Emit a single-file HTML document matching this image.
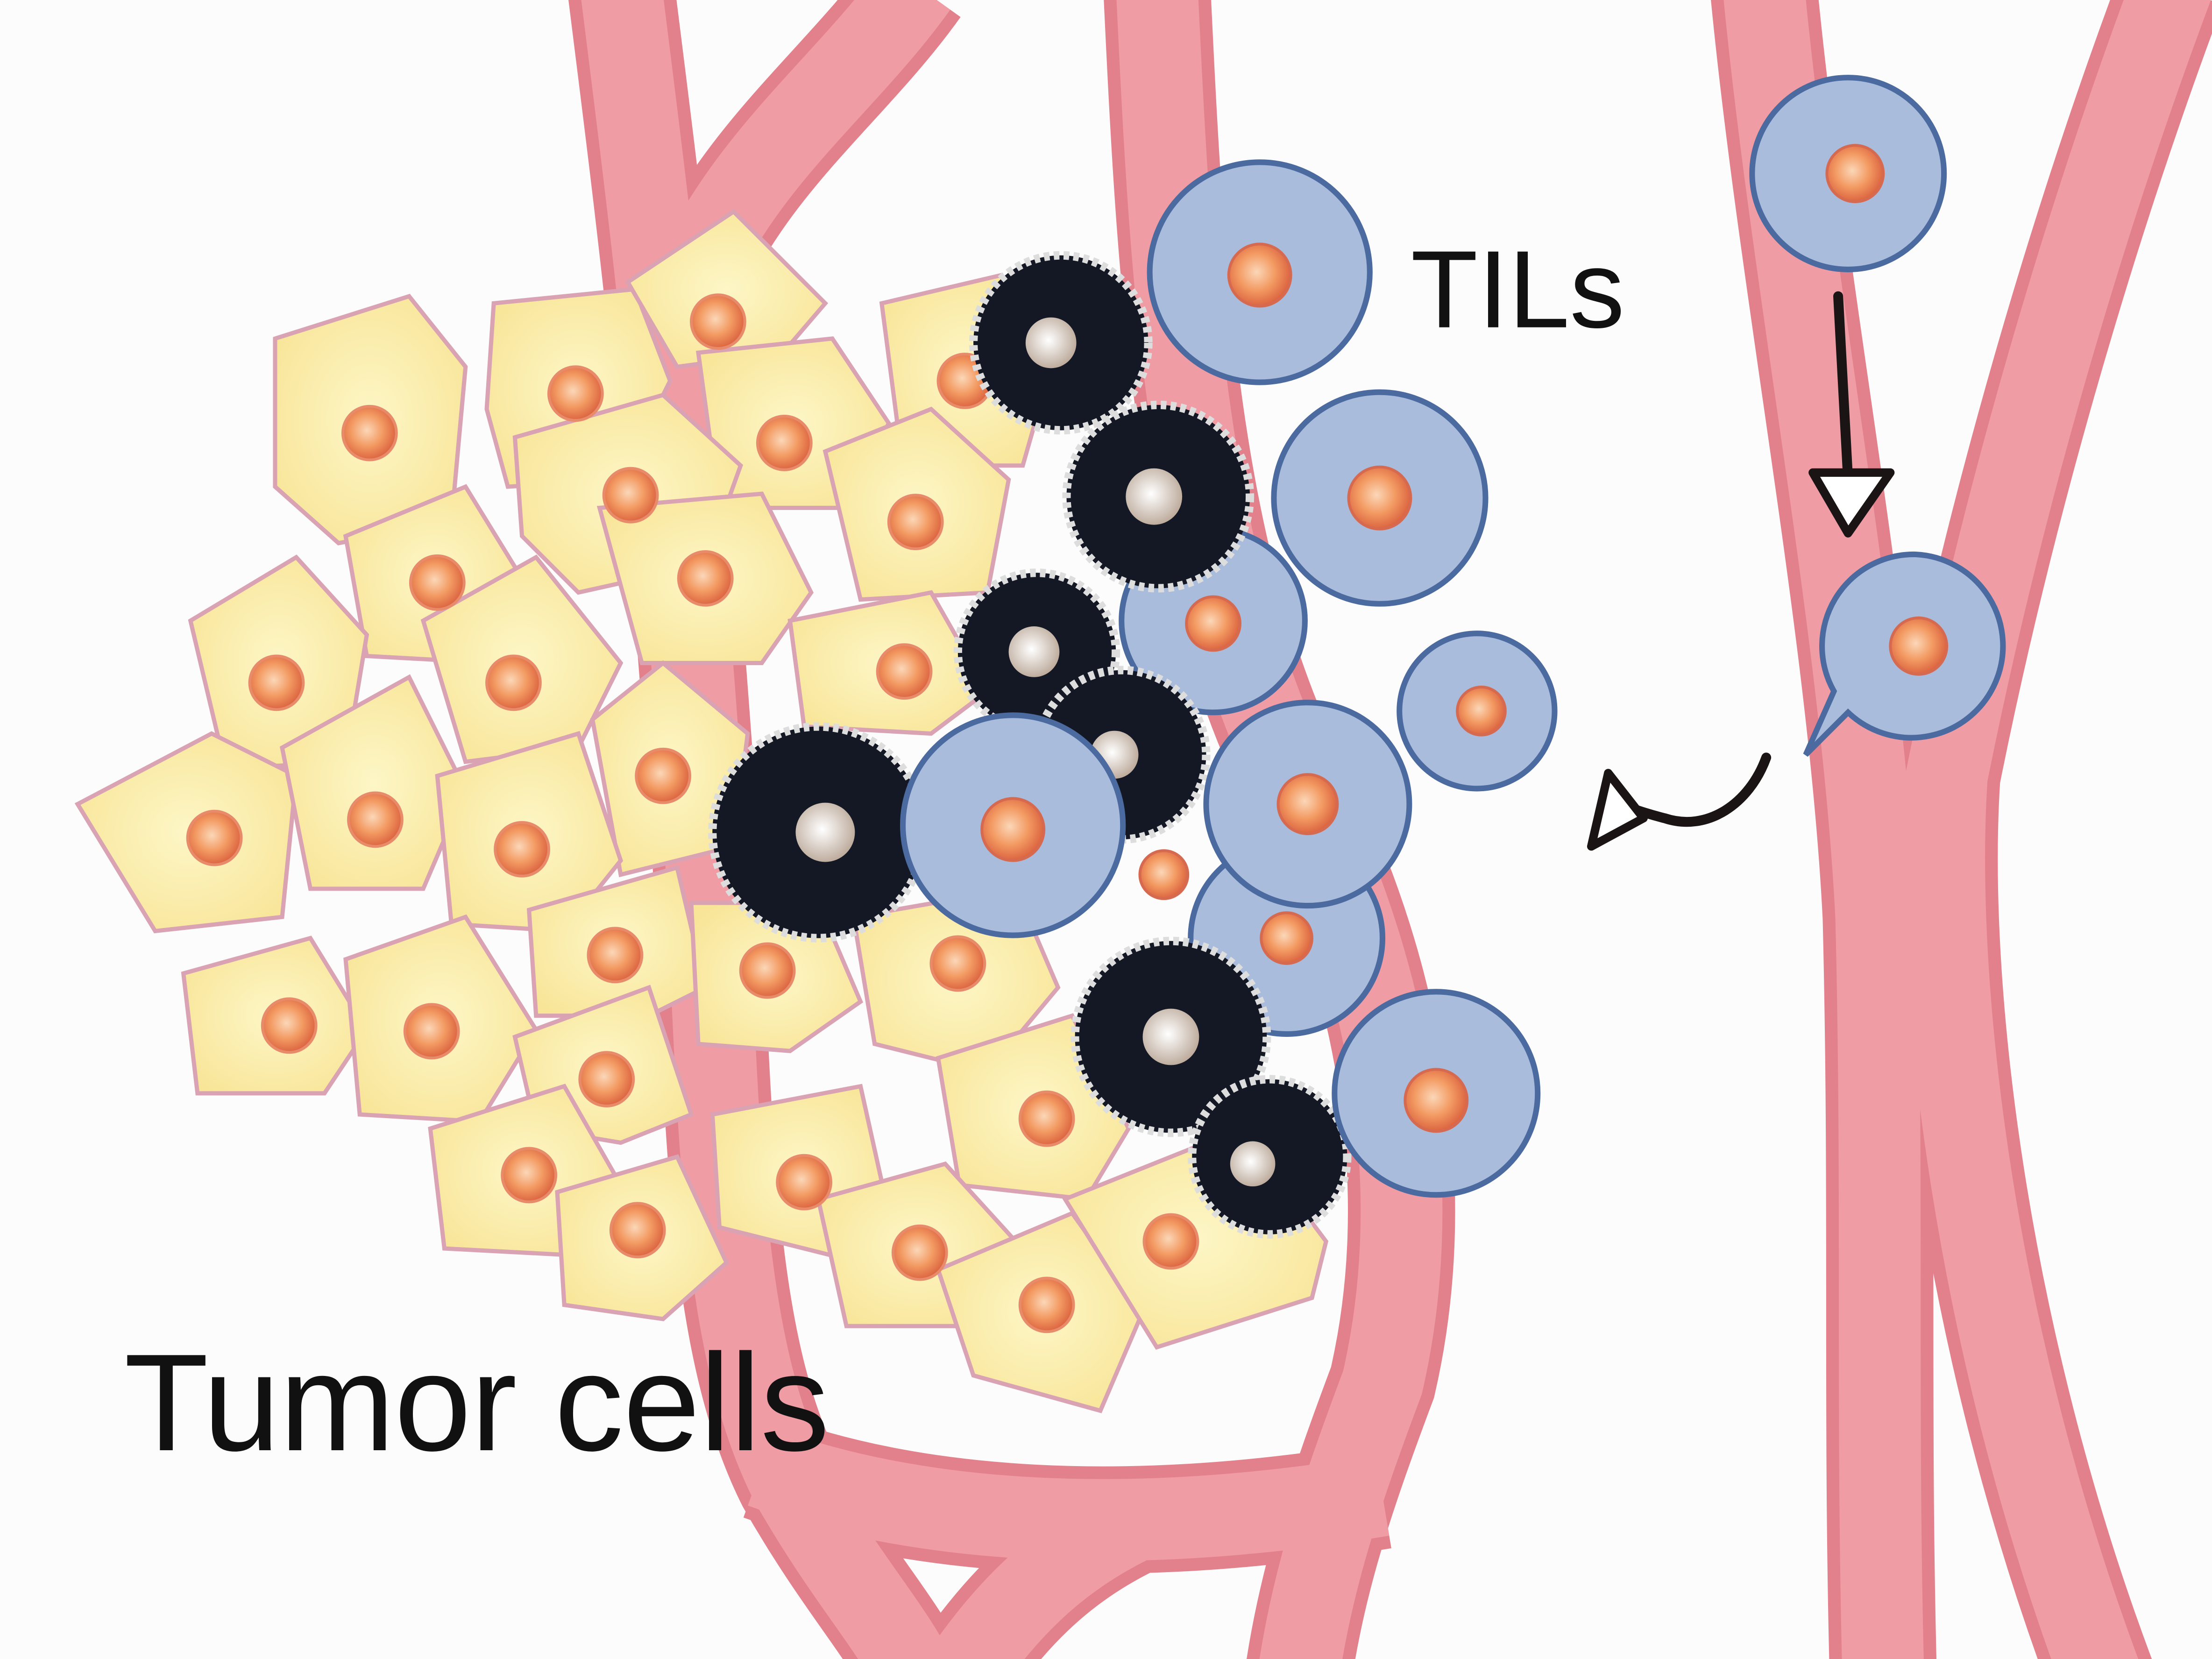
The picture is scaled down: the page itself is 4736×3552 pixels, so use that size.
<!DOCTYPE html>
<html><head><meta charset="utf-8"><style>
html,body{margin:0;padding:0;background:#fdfcfc;}
svg{display:block;}
</style></head><body>
<svg width="4736" height="3552" viewBox="0 0 1568 1176" xmlns="http://www.w3.org/2000/svg">
<defs>
<radialGradient id="nuc" cx="0.45" cy="0.45" r="0.6"><stop offset="0" stop-color="#fbd7b8"/><stop offset="0.5" stop-color="#f39a62"/><stop offset="1" stop-color="#d75a3a"/></radialGradient>
<radialGradient id="wn" cx="0.45" cy="0.45" r="0.6"><stop offset="0" stop-color="#fff"/><stop offset="1" stop-color="#b9a696"/></radialGradient>
<radialGradient id="yel" cx="0.5" cy="0.5" r="0.6"><stop offset="0" stop-color="#fdf6c6"/><stop offset="1" stop-color="#f8e598"/></radialGradient>
</defs>
<rect width="1568" height="1176" fill="#fdfcfc"/>
<g fill="none" stroke="#e2808b" stroke-width="76" stroke-linecap="butt">
<path d="M440 -10 C460 150 480 300 500 600 C510 800 510 950 560 1050 C600 1120 630 1150 650 1190"/>
<path d="M650 -10 C600 60 530 110 490 200"/>
<path d="M820 -10 C830 200 840 400 920 560 C990 700 1010 850 980 980 C950 1060 930 1120 920 1190"/>
<path d="M540 1040 C650 1080 800 1090 980 1060"/>
<path d="M680 1190 C720 1130 760 1100 800 1080"/>
<path d="M1250 -10 C1270 200 1320 450 1330 650 C1335 850 1330 1000 1335 1190"/>
<path d="M1540 -10 C1480 150 1420 350 1380 550 C1370 700 1400 950 1490 1190"/>
</g>
<g fill="none" stroke="#ef9ca5" stroke-width="58">
<path d="M440 -10 C460 150 480 300 500 600 C510 800 510 950 560 1050 C600 1120 630 1150 650 1190"/>
<path d="M650 -10 C600 60 530 110 490 200"/>
<path d="M820 -10 C830 200 840 400 920 560 C990 700 1010 850 980 980 C950 1060 930 1120 920 1190"/>
<path d="M540 1040 C650 1080 800 1090 980 1060"/>
<path d="M680 1190 C720 1130 760 1100 800 1080"/>
<path d="M1250 -10 C1270 200 1320 450 1330 650 C1335 850 1330 1000 1335 1190"/>
<path d="M1540 -10 C1480 150 1420 350 1380 550 C1370 700 1400 950 1490 1190"/>
</g>
<g stroke="#d9a3b3" stroke-width="3" fill="url(#yel)">
<path d="M195 240 L290 210 L330 260 L320 370 L240 385 L195 345 Z"/>
<path d="M350 215 L450 205 L475 270 L440 340 L360 345 L345 290 Z"/>
<path d="M445 200 L520 150 L585 215 L555 250 L480 260 Z"/>
<path d="M495 250 L590 240 L630 300 L600 360 L510 360 Z"/>
<path d="M365 310 L470 280 L525 330 L500 400 L410 420 L370 380 Z"/>
<path d="M625 215 L710 195 L745 260 L725 330 L640 330 Z"/>
<path d="M585 320 L660 290 L715 340 L700 420 L610 425 Z"/>
<path d="M425 360 L540 350 L575 420 L540 470 L455 470 Z"/>
<path d="M245 380 L330 345 L370 410 L350 470 L260 465 Z"/>
<path d="M135 440 L210 395 L260 450 L245 540 L160 545 Z"/>
<path d="M300 440 L380 395 L440 470 L410 530 L330 540 Z"/>
<path d="M560 440 L660 420 L700 490 L660 520 L570 515 Z"/>
<path d="M420 510 L470 470 L530 520 L520 600 L440 620 Z"/>
<path d="M55 570 L150 520 L210 550 L200 650 L110 660 Z"/>
<path d="M200 530 L290 480 L330 560 L300 630 L220 630 Z"/>
<path d="M310 550 L410 520 L440 610 L400 660 L320 655 Z"/>
<path d="M130 690 L220 665 L260 730 L230 775 L140 775 Z"/>
<path d="M245 680 L330 650 L380 730 L340 795 L255 790 Z"/>
<path d="M375 645 L480 615 L500 700 L460 720 L380 720 Z"/>
<path d="M490 640 L580 640 L610 710 L560 745 L495 740 Z"/>
<path d="M605 650 L720 630 L750 700 L700 760 L620 740 Z"/>
<path d="M365 735 L460 700 L490 790 L440 810 L380 800 Z"/>
<path d="M305 800 L400 770 L440 840 L410 890 L315 885 Z"/>
<path d="M505 790 L610 770 L630 860 L590 890 L510 870 Z"/>
<path d="M665 750 L760 720 L800 800 L770 850 L680 840 Z"/>
<path d="M395 845 L480 820 L515 895 L470 935 L400 925 Z"/>
<path d="M580 850 L670 825 L720 880 L700 940 L600 940 Z"/>
<path d="M665 900 L760 860 L810 930 L780 1000 L690 975 Z"/>
<path d="M755 850 L880 800 L940 880 L930 920 L820 955 Z"/>
</g>
<g fill="url(#nuc)" stroke="#e88b6b" stroke-width="2">
<circle cx="262" cy="307" r="19"/><circle cx="408" cy="279" r="19"/><circle cx="509" cy="228" r="19"/><circle cx="556" cy="314" r="19"/><circle cx="447" cy="351" r="19"/><circle cx="684" cy="270" r="19"/><circle cx="649" cy="370" r="19"/><circle cx="500" cy="410" r="19"/><circle cx="310" cy="413" r="19"/><circle cx="196" cy="484" r="19"/><circle cx="364" cy="484" r="19"/><circle cx="641" cy="476" r="19"/><circle cx="470" cy="550" r="19"/><circle cx="152" cy="594" r="19"/><circle cx="266" cy="581" r="19"/><circle cx="370" cy="602" r="19"/><circle cx="205" cy="727" r="19"/><circle cx="306" cy="731" r="19"/><circle cx="436" cy="677" r="19"/><circle cx="544" cy="688" r="19"/><circle cx="679" cy="683" r="19"/><circle cx="430" cy="765" r="19"/><circle cx="375" cy="833" r="19"/><circle cx="570" cy="838" r="19"/><circle cx="742" cy="793" r="19"/><circle cx="452" cy="872" r="19"/><circle cx="652" cy="888" r="19"/><circle cx="742" cy="925" r="19"/><circle cx="830" cy="880" r="19"/>
</g>
<!-- blue behind -->
<g fill="#a9bcdb" stroke="#4a6aa0" stroke-width="4">
<circle cx="860" cy="440" r="65"/><circle cx="912" cy="665" r="68"/>
</g>
<!-- black cells -->
<g fill="#141824" stroke="#ddd" stroke-width="6" stroke-dasharray="4 3">
<circle cx="752" cy="243" r="62"/><circle cx="821" cy="352" r="65"/><circle cx="735" cy="462" r="56"/><circle cx="795" cy="535" r="60"/><circle cx="580" cy="590" r="75"/><circle cx="830" cy="735" r="68"/><circle cx="900" cy="820" r="55"/>
</g>
<g fill="url(#wn)">
<circle cx="745" cy="243" r="18"/><circle cx="818" cy="352" r="20"/><circle cx="733" cy="462" r="18"/><circle cx="790" cy="535" r="17"/><circle cx="585" cy="590" r="21"/><circle cx="830" cy="735" r="20"/><circle cx="888" cy="825" r="16"/>
</g>
<g fill="#a9bcdb" stroke="#4a6aa0" stroke-width="4">
<circle cx="893" cy="193" r="78"/><circle cx="978" cy="353" r="75"/><circle cx="1047" cy="504" r="55"/><circle cx="927" cy="570" r="72"/><circle cx="718" cy="585" r="78"/><circle cx="1018" cy="775" r="72"/><circle cx="1310" cy="123" r="68"/>
<path d="M1358 393 A65 65 0 1 1 1310 505 L1280 535 L1300 490 A65 65 0 0 1 1358 393 Z"/>
</g>
<g fill="url(#nuc)" stroke="#d66a50" stroke-width="2">
<circle cx="893" cy="195" r="22"/><circle cx="978" cy="353" r="22"/><circle cx="860" cy="442" r="19"/><circle cx="1050" cy="504" r="17"/><circle cx="927" cy="570" r="21"/><circle cx="718" cy="588" r="22"/><circle cx="912" cy="665" r="18"/><circle cx="825" cy="620" r="17"/><circle cx="1018" cy="780" r="22"/><circle cx="1315" cy="123" r="20"/><circle cx="1360" cy="458" r="20"/>
</g>
<!-- arrows -->
<g stroke="#1a1414" fill="none" stroke-width="7" stroke-linecap="round">
<path d="M1303 210 L1310 340"/>
<path d="M1252 537 C1240 570 1210 590 1180 580 C1160 575 1150 570 1140 568"/>
</g>
<path d="M1285 335 L1340 335 L1310 378 Z" fill="#fff" stroke="#1a1414" stroke-width="6" stroke-linejoin="round"/>
<path d="M1140 548 L1165 580 L1128 600 Z" fill="#fff" stroke="#1a1414" stroke-width="6" stroke-linejoin="round"/>
<text x="1000" y="232" font-family="Liberation Sans, sans-serif" font-size="78" fill="#111">TILs</text>
<text x="88" y="1028" font-family="Liberation Sans, sans-serif" font-size="98" fill="#111" textLength="500">Tumor cells</text>
</svg>
</body></html>
